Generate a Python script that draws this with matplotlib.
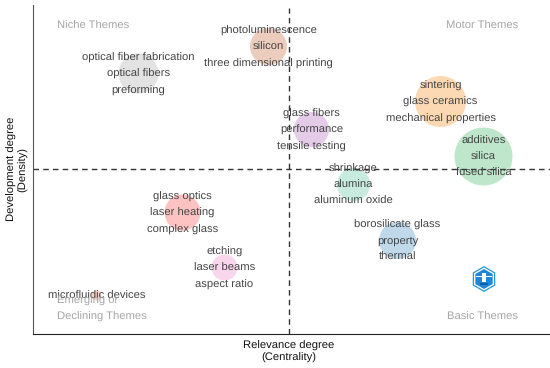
import matplotlib
matplotlib.use("Agg")
import matplotlib.pyplot as plt
from matplotlib.patches import RegularPolygon, Rectangle

plt.rcParams['font.family'] = ['Liberation Sans', 'DejaVu Sans']
plt.rcParams['text.hinting'] = 'no_hinting'

# centrality / density (px from the axis corner)
centrality = [105, 235, 278, 407, 450, 320, 364, 149, 191, 63]
density = [261, 288, 205, 233, 178, 150, 94, 122, 67, 39]
sizes = [40, 37, 35, 51, 58, 33, 37, 36, 26, 10]
colors = ["#e3e3e3", "#eccdbd", "#e4cbe8", "#fdd9b3", "#bde6ca",
          "#c8ebdf", "#bfd8ea", "#fdc2c2", "#f8d6ec", "#f7cfbf"]
labels = [
    ["optical fiber fabrication", "optical fibers", "preforming"],
    ["photoluminescence", "silicon", "three dimensional printing"],
    ["glass fibers", "performance", "tensile testing"],
    ["sintering", "glass ceramics", "mechanical properties"],
    ["additives", "silica", "fused silica"],
    ["shrinkage", "alumina", "aluminum oxide"],
    ["borosilicate glass", "property", "thermal"],
    ["glass optics", "laser heating", "complex glass"],
    ["etching", "laser beams", "aspect ratio"],
    ["microfluidic devices"],
]

fs = 8.15

fig = plt.figure(figsize=(5.5, 3.68), dpi=100)
ax = fig.add_axes([33 / 550, 34 / 368, 517 / 550, 329 / 368])
ax.set_xlim(0, 517)
ax.set_ylim(0, 329)

# bolle
for x, y, d, c in zip(centrality, density, sizes, colors):
    ax.scatter(x, y, s=(d * 0.72) ** 2, color=c, linewidths=0, zorder=1)

# linee centrali
ax.plot([0, 517], [165, 165], color="#333333", lw=1, ls=(0, (4, 3)), zorder=2)
ax.plot([256, 256], [0, 326], color="#333333", lw=1, ls=(0, (4, 3)), zorder=2)

# etichette
for x, y, words in zip(centrality, density, labels):
    off = [16.4, 0, -16.4] if len(words) == 3 else [0]
    for w, o in zip(words, off):
        ax.text(x + 0.5, y + o - 1, w, ha="center", va="center", fontsize=fs,
                color="#444444", zorder=3)

# nomi dei quadranti
grey = "#a6a6a6"
ax.text(24, 308, "Niche Themes", fontsize=fs, color=grey, va="center")
ax.text(413, 308, "Motor Themes", fontsize=fs, color=grey, va="center")
ax.text(24, 33, "Emerging or", fontsize=fs, color=grey, va="center")
ax.text(24, 17, "Declining Themes", fontsize=fs, color=grey, va="center")
ax.text(414, 17, "Basic Themes", fontsize=fs, color=grey, va="center")

# logo
ax.add_patch(RegularPolygon((451, 55), 6, radius=13, facecolor="#2a9be0",
                            edgecolor="none", zorder=4))
ax.add_patch(RegularPolygon((451, 55), 6, radius=11.5, facecolor="#ffffff",
                            edgecolor="none", zorder=4))
ax.add_patch(RegularPolygon((451, 55), 6, radius=10, facecolor="#1f86d8",
                            edgecolor="none", zorder=4))
ax.add_patch(Rectangle((449, 52), 4, 9, facecolor="#ffffff", edgecolor="none", zorder=5))
ax.add_patch(Rectangle((443, 57), 16, 1.3, facecolor="#ffffff", edgecolor="none", zorder=5))
ax.add_patch(Rectangle((447, 49), 8, 2, facecolor="#0f5fa8", edgecolor="none", zorder=5))

ax.set_xticks([])
ax.set_yticks([])
ax.spines["top"].set_visible(False)
ax.spines["right"].set_visible(False)
ax.spines["left"].set_color("#555555")
ax.spines["bottom"].set_color("#222222")

fig.text(289 / 550, 1 - 351.5 / 368, "Relevance degree\n(Centrality)", ha="center",
         va="center", fontsize=fs, color="#111111", linespacing=1.2)
fig.text(17.5 / 550, 1 - 169 / 368, "Development degree\n(Density)", ha="center",
         va="center", rotation=90, fontsize=fs, color="#111111", linespacing=1.2)

plt.savefig("out.png", dpi=100)
